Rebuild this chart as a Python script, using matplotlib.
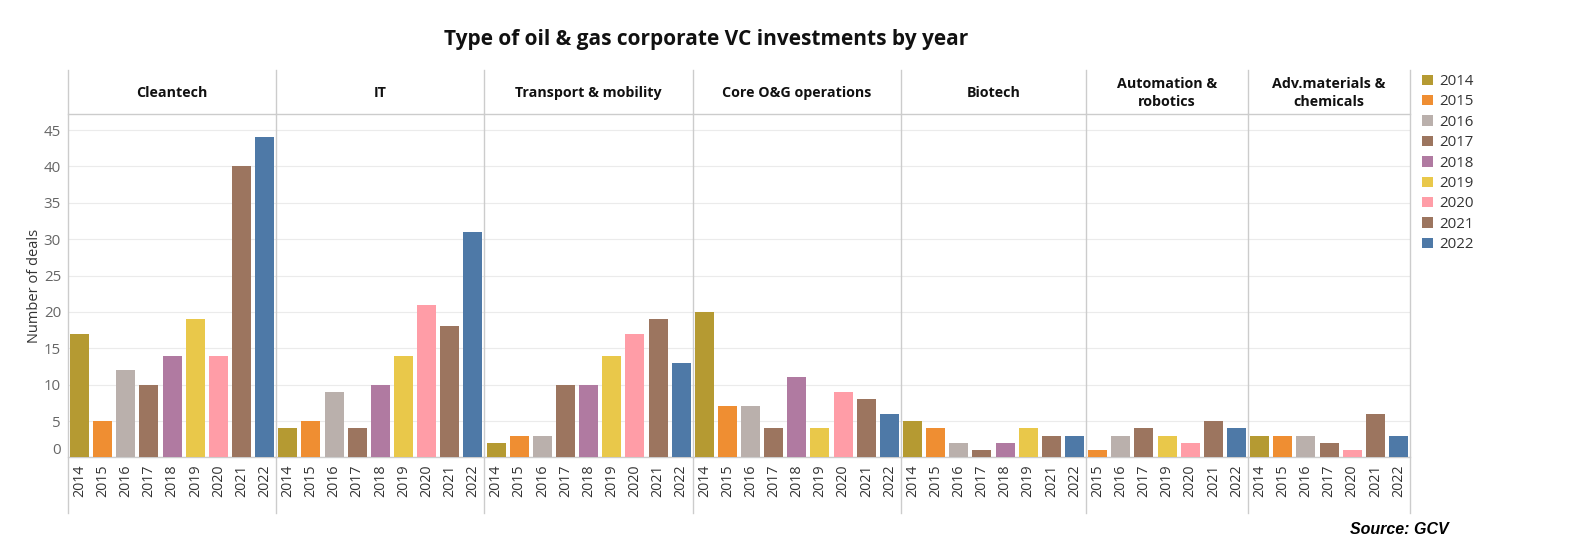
import matplotlib
matplotlib.use("Agg")
import matplotlib.pyplot as plt
from matplotlib.lines import Line2D
from matplotlib.patches import Patch
from matplotlib.transforms import ScaledTranslation

plt.rcParams['font.family'] = ['Open Sans', 'DejaVu Sans']

# ---------------- data ----------------
title = "Type of oil & gas corporate VC investments by year"
categories = ["Cleantech", "IT", "Transport & mobility", "Core O&G operations",
              "Biotech", "Automation &\nrobotics", "Adv.materials &\nchemicals"]

legend_years = ["2014", "2015", "2016", "2017", "2018", "2019", "2020", "2021", "2022"]
year_colors = ["#B59A32", "#EF8E32", "#BAB0AC", "#9C755F", "#B07AA1",
               "#E9C84A", "#FF9DA7", "#9C755F", "#4E79A7"]

cleantech_years = ["2014", "2015", "2016", "2017", "2018", "2019", "2020", "2021", "2022"]
cleantech_deals = [17, 5, 12, 10, 14, 19, 14, 40, 44]

it_years = ["2014", "2015", "2016", "2017", "2018", "2019", "2020", "2021", "2022"]
it_deals = [4, 5, 9, 4, 10, 14, 21, 18, 31]

transport_years = ["2014", "2015", "2016", "2017", "2018", "2019", "2020", "2021", "2022"]
transport_deals = [2, 3, 3, 10, 10, 14, 17, 19, 13]

core_og_years = ["2014", "2015", "2016", "2017", "2018", "2019", "2020", "2021", "2022"]
core_og_deals = [20, 7, 7, 4, 11, 4, 9, 8, 6]

biotech_years = ["2014", "2015", "2016", "2017", "2018", "2019", "2021", "2022"]
biotech_deals = [5, 4, 2, 1, 2, 4, 3, 3]

automation_years = ["2015", "2016", "2017", "2019", "2020", "2021", "2022"]
automation_deals = [1, 3, 4, 3, 2, 5, 4]

advmat_years = ["2014", "2015", "2016", "2017", "2020", "2021", "2022"]
advmat_deals = [3, 3, 3, 2, 1, 6, 3]

y_ticks = [0, 5, 10, 15, 20, 25, 30, 35, 40, 45]
y_label = "Number of deals"
source = "Source: GCV"

panel_years = [cleantech_years, it_years, transport_years, core_og_years,
               biotech_years, automation_years, advmat_years]
panel_deals = [cleantech_deals, it_deals, transport_deals, core_og_deals,
               biotech_deals, automation_deals, advmat_deals]

# ---------------- layout ----------------
W, H = 1573, 558
fig = plt.figure(figsize=(W / 100, H / 100), dpi=100)
color_of = dict(zip(legend_years, year_colors))

left, right = 68 / W, 1410 / W
bottom, top = 1 - 457.4 / H, 1 - 114 / H
head_top = 1 - 70 / H
line_bottom = 1 - 513 / H
total = sum(len(y) for y in panel_years)

grid_c = "#EBEBEB"
div_c = "#CCCCCC"
text_c = "#333333"
tick_c = "#666666"

x0 = left
boundaries = [left]
axes = []
for i, (cat, yrs, vals) in enumerate(zip(categories, panel_years, panel_deals)):
    n = len(yrs)
    w = (right - left) * n / total
    ax = fig.add_axes([x0, bottom, w, top - bottom])
    axes.append(ax)
    xs = list(range(n))
    ax.bar(xs, vals, width=0.82, color=[color_of[y] for y in yrs], zorder=3)
    ax.set_xlim(-0.5, n - 0.5)
    ax.set_ylim(0, 47.2)
    ax.set_yticks(y_ticks)
    ax.yaxis.grid(True, color=grid_c, lw=0.8, zorder=0)
    ax.set_axisbelow(True)
    ax.set_xticks(xs)
    ax.set_xticklabels(yrs, rotation=90, fontsize=10.3, color=text_c)
    ax.tick_params(axis='x', length=0, pad=5)
    ax.tick_params(axis='y', length=0, pad=5, labelsize=10.8, labelcolor=tick_c)
    for s in ("left", "right"):
        ax.spines[s].set_visible(False)
    ax.spines["top"].set_color(div_c)
    ax.spines["bottom"].set_color(div_c)
    ax.spines["top"].set_linewidth(1)
    ax.spines["bottom"].set_linewidth(1)
    if i == 0:
        ax.set_ylabel(y_label, fontsize=10.5, color=text_c, labelpad=1)
        for lab in ax.get_yticklabels():
            if lab.get_text() == "0":
                lab.set_transform(lab.get_transform() +
                                  ScaledTranslation(0, 9 / 100, fig.dpi_scale_trans))
    else:
        ax.set_yticklabels([])
    hy = (457.4 - 93) / (457.4 - 114)
    ax.text(0.5, hy, cat, transform=ax.transAxes, ha="center", va="center",
            fontsize=10.3, fontweight="bold", color="#111111", linespacing=1.4)
    x0 += w
    boundaries.append(x0)

for bx in boundaries:
    fig.add_artist(Line2D([bx, bx], [line_bottom, head_top], transform=fig.transFigure,
                          color=div_c, lw=1))

# title
fig.text(706 / W, 1 - 40 / H, title, ha="center", va="center", fontsize=15,
         fontweight="bold", color="#111111")

# legend
handles = [Patch(facecolor=c, edgecolor="none") for c in year_colors]
fig.legend(handles, legend_years, loc="upper left", bbox_to_anchor=(1422 / W, 1 - 74 / H),
           frameon=False, fontsize=10.8, handlelength=0.7, handleheight=0.7,
           handletextpad=0.45, labelspacing=0.36, borderaxespad=0, borderpad=0,
           labelcolor=text_c)

# source
fig.text(1449 / W, 1 - 529 / H, source, ha="right", va="center", fontsize=11.5,
         fontweight="bold", fontstyle="italic", family=["Liberation Sans", "DejaVu Sans"],
         color="#000000")

fig.savefig("out.png", dpi=100)
